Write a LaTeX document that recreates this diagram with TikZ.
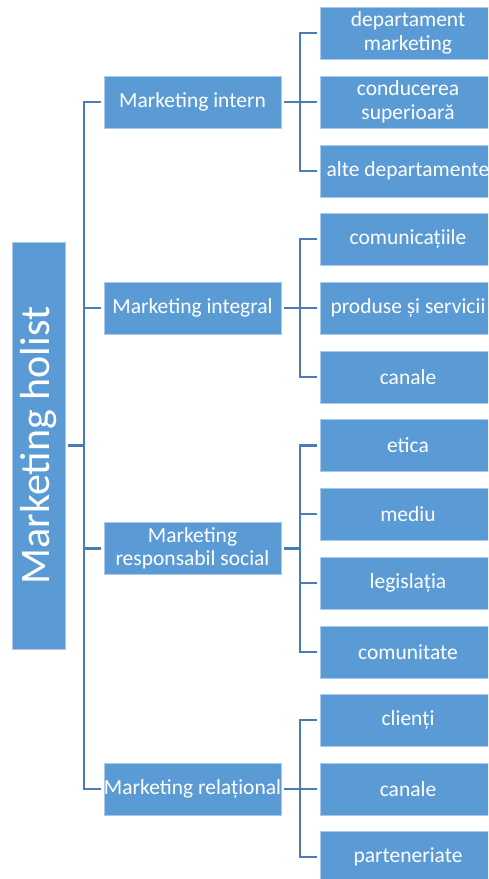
\documentclass[tikz,border=0pt]{standalone}
\usepackage{fontspec}
\setmainfont{Carlito}
\definecolor{boxblue}{HTML}{5B9BD5}
\definecolor{boxedge}{HTML}{A9C8EA}
\definecolor{linkblue}{HTML}{4A7DB5}
\begin{document}
\begin{tikzpicture}[x=1pt,y=-1pt,
  box/.style={rectangle, fill=boxblue, draw=boxedge, line width=0.8pt,
    text=white, align=center, inner sep=0pt,
    font=\fontsize{21.5}{23.5}\selectfont},
  rootbox/.style={box, minimum width=53pt, minimum height=407pt},
  midbox/.style={box, minimum width=177pt, minimum height=52pt},
  leafbox/.style={box, minimum width=176pt, minimum height=52pt},
  conn/.style={draw=linkblue, line width=2.2pt}]
\useasboundingbox (0,0) rectangle (488,879);
\clip (0,0) rectangle (488,879);

% root
\node[rootbox] (root) at (38.5,445.5) {};
\node[rotate=90, text=white, font=\fontsize{42}{44}\selectfont] (rootlabel) at (root.center) {Marketing holist};

% second level
\node[midbox] (m1) at (192.5,102) {Marketing intern};
\node[midbox] (m2) at (192.5,308) {Marketing integral};
\node[midbox] (m3) at (192.5,548.5) {Marketing\\responsabil social};
\node[midbox] (m4) at (192.5,789) {Marketing relațional};

% leaves
\node[leafbox] (a1) at (408,33) {departament\\marketing};
\node[leafbox] (a2) at (408,102) {conducerea\\superioară};
\node[leafbox] (a3) at (408,171) {alte departamente};
\node[leafbox] (b1) at (408,239) {comunicațiile};
\node[leafbox] (b2) at (408,308) {produse și servicii};
\node[leafbox] (b3) at (408,377) {canale};
\node[leafbox] (c1) at (408,445.5) {etica};
\node[leafbox] (c2) at (408,514) {mediu};
\node[leafbox] (c3) at (408,583) {legislația};
\node[leafbox] (c4) at (408,652) {comunitate};
\node[leafbox] (d1) at (408,720) {clienți};
\node[leafbox] (d2) at (408,789) {canale};
\node[leafbox] (d3) at (408,857) {parteneriate};

% trunk from root to second level
\coordinate (trunk) at (84,0);
\draw[conn] ([xshift=3pt]root.east) -- (trunk |- root.east);
\draw[conn] ([xshift=-3pt]m1.west) -| (trunk |- m4.west) -- ([xshift=-3pt]m4.west);
\draw[conn] ([xshift=-3pt]m2.west) -- (trunk |- m2.west);
\draw[conn] ([xshift=-3pt]m3.west) -- (trunk |- m3.west);

% branches from second level to leaves
\coordinate (fork) at (300,0);
\draw[conn] ([xshift=3pt]m1.east) -- (fork |- m1.east);
\draw[conn] ([xshift=-3pt]a1.west) -| (fork |- a3.west) -- ([xshift=-3pt]a3.west);
\draw[conn] ([xshift=-3pt]a2.west) -- (fork |- a2.west);

\draw[conn] ([xshift=3pt]m2.east) -- (fork |- m2.east);
\draw[conn] ([xshift=-3pt]b1.west) -| (fork |- b3.west) -- ([xshift=-3pt]b3.west);
\draw[conn] ([xshift=-3pt]b2.west) -- (fork |- b2.west);

\draw[conn] ([xshift=3pt]m3.east) -- (fork |- m3.east);
\draw[conn] ([xshift=-3pt]c1.west) -| (fork |- c4.west) -- ([xshift=-3pt]c4.west);
\draw[conn] ([xshift=-3pt]c2.west) -- (fork |- c2.west);
\draw[conn] ([xshift=-3pt]c3.west) -- (fork |- c3.west);

\draw[conn] ([xshift=3pt]m4.east) -- (fork |- m4.east);
\draw[conn] ([xshift=-3pt]d1.west) -| (fork |- d3.west) -- ([xshift=-3pt]d3.west);
\draw[conn] ([xshift=-3pt]d2.west) -- (fork |- d2.west);
\end{tikzpicture}
\end{document}
